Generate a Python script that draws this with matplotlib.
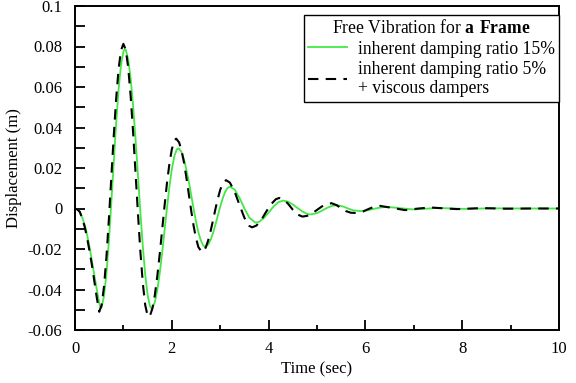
import matplotlib
matplotlib.use('Agg')
import matplotlib.pyplot as plt
from matplotlib.ticker import MultipleLocator, FuncFormatter

plt.rcParams['font.family'] = ['Liberation Serif', 'DejaVu Serif']
plt.rcParams['mathtext.fontset'] = 'custom'
plt.rcParams['mathtext.rm'] = 'Liberation Serif'
plt.rcParams['mathtext.bf'] = 'Liberation Serif:bold'
plt.rcParams['axes.unicode_minus'] = False

# inherent damping ratio 15% (green, solid)
t_15 = [0, 0.05, 0.1, 0.15, 0.2, 0.25, 0.3, 0.35, 0.4, 0.45, 0.5, 0.53,
        0.55, 0.6, 0.65, 0.7, 0.75, 0.8, 0.85, 0.9, 0.95, 1.0, 1.03,
        1.05, 1.1, 1.15, 1.2, 1.25, 1.3, 1.35, 1.4, 1.45, 1.5, 1.55, 1.58,
        1.6, 1.65, 1.7, 1.75, 1.8, 1.85, 1.9, 1.95, 2.0, 2.05, 2.1, 2.13,
        2.15, 2.2, 2.25, 2.3, 2.35, 2.4, 2.45, 2.5, 2.55, 2.6, 2.65, 2.69,
        2.75, 2.8, 2.85, 2.9, 2.95, 3.0, 3.05, 3.1, 3.15, 3.2,
        3.3, 3.4, 3.5, 3.6, 3.73, 3.8, 3.9, 4.0, 4.1, 4.2, 4.3,
        4.4, 4.5, 4.6, 4.7, 4.8, 4.87, 5.0, 5.1, 5.2, 5.3, 5.41,
        5.55, 5.65, 5.75, 5.9, 6.05, 6.15, 6.25, 6.35, 6.45,
        6.7, 7.0, 7.25, 7.5, 7.8, 8.05, 8.6, 9.2, 10.0]
d_15 = [0, -0.0005, -0.0015, -0.0045, -0.008, -0.013, -0.019, -0.026, -0.033, -0.040, -0.0465, -0.0493,
        -0.0488, -0.0432, -0.032, -0.0161, 0.0027, 0.0227, 0.042, 0.0585, 0.0708, 0.0775, 0.0787,
        0.0783, 0.0736, 0.0642, 0.0509, 0.0345, 0.0166, -0.0016, -0.0183, -0.0325, -0.0427, -0.0483, -0.0493,
        -0.0490, -0.0462, -0.0404, -0.0321, -0.0220, -0.0109, 0.0002, 0.0106, 0.0193, 0.0256, 0.0291, 0.0297,
        0.0295, 0.0279, 0.0244, 0.0194, 0.0134, 0.0068, 0.0, -0.0064, -0.0118, -0.0158, -0.0183, -0.0189,
        -0.0179, -0.0156, -0.0123, -0.0081, -0.0036, 0.0009, 0.0049, 0.0081, 0.0101, 0.0108,
        0.0093, 0.0052, 0.0001, -0.0045, -0.0070, -0.0066, -0.0048, -0.0020, 0.0009, 0.0031, 0.0039,
        0.0034, 0.0020, 0.0002, -0.0015, -0.0027, -0.0029, -0.0023, -0.0011, 0.0002, 0.0012, 0.0017,
        0.0009, -0.0001, -0.0009, -0.0013, -0.0009, -0.0003, 0.0002, 0.0006, 0.0008,
        0.0002, -0.0005, -0.0001, 0.0003, 0.0, -0.0002, 0.0001, 0.0, 0.0]

# inherent damping ratio 5% + viscous dampers (black, dashed)
t_5v = [0, 0.05, 0.1, 0.15, 0.2, 0.25, 0.3, 0.35, 0.4, 0.45, 0.5,
        0.55, 0.6, 0.65, 0.7, 0.75, 0.8, 0.85, 0.9, 0.95, 1.0,
        1.05, 1.1, 1.15, 1.2, 1.25, 1.3, 1.35, 1.4, 1.45, 1.5, 1.52,
        1.55, 1.6, 1.65, 1.7, 1.75, 1.8, 1.85, 1.9, 1.95, 2.0, 2.05, 2.09,
        2.15, 2.2, 2.25, 2.3, 2.35, 2.4, 2.45, 2.5, 2.55, 2.62,
        2.65, 2.7, 2.75, 2.8, 2.85, 2.9, 2.95, 3.0, 3.05, 3.12,
        3.2, 3.3, 3.4, 3.5, 3.6, 3.66, 3.75, 3.85, 3.95, 4.05, 4.15, 4.22,
        4.3, 4.4, 4.5, 4.6, 4.7, 4.8, 4.9, 5.0, 5.1, 5.2, 5.3,
        5.4, 5.5, 5.6, 5.7, 5.8, 5.95, 6.05, 6.15, 6.3,
        6.55, 6.82, 7.1, 7.35, 7.6, 7.9, 8.4, 8.9, 9.4, 10.0]
d_5v = [0, -0.0005, -0.0017, -0.005, -0.009, -0.0145, -0.021, -0.028, -0.036, -0.044, -0.051,
        -0.0478, -0.0384, -0.0237, -0.0053, 0.0152, 0.0356, 0.0541, 0.0687, 0.0781, 0.0813,
        0.0783, 0.0694, 0.0555, 0.0378, 0.0179, -0.0022, -0.0210, -0.0366, -0.0476, -0.0530, -0.0535,
        -0.0529, -0.0493, -0.0427, -0.0335, -0.0226, -0.0107, 0.0013, 0.0125, 0.0220, 0.0292, 0.0334, 0.0345,
        0.0327, 0.0288, 0.0229, 0.0155, 0.0073, -0.0009, -0.0085, -0.0147, -0.0191, -0.0215,
        -0.0212, -0.0193, -0.0159, -0.0113, -0.0060, -0.0004, 0.0048, 0.0092, 0.0123, 0.0140,
        0.0128, 0.0082, 0.0017, -0.0046, -0.0086, -0.0093, -0.0084, -0.0056, -0.0016, 0.0021, 0.0046, 0.0052,
        0.0046, 0.0024, -0.0006, -0.0030, -0.0040, -0.0036, -0.0024, -0.0007, 0.0010, 0.0022, 0.0026,
        0.0017, 0.0002, -0.0013, -0.0021, -0.0022, -0.0015, -0.0004, 0.0006, 0.0013,
        0.0003, -0.0008, 0.0, 0.0005, 0.0001, -0.0003, 0.0002, -0.0001, 0.0, 0.0]

fig = plt.figure(figsize=(5.76, 3.83), dpi=100)
ax = fig.add_axes([75/576, 53/383, 484/576, 324/383])

ax.plot(t_15, d_15, color='#44e844', lw=1.3, label='inherent damping ratio 15%')
ax.plot(t_5v, d_5v, color='black', lw=1.5, linestyle=(0, (5, 3.5)),
        label='inherent damping ratio 5%\n+ viscous dampers')

ax.set_xlim(0, 10)
ax.set_ylim(-0.06, 0.1)
ax.xaxis.set_major_locator(MultipleLocator(2))
ax.xaxis.set_minor_locator(MultipleLocator(1))
ax.yaxis.set_major_locator(MultipleLocator(0.02))
ax.yaxis.set_minor_locator(MultipleLocator(0.01))
ax.yaxis.set_major_formatter(FuncFormatter(lambda v, p: '%g' % round(v, 4)))
ax.tick_params(which='both', direction='in', top=False, right=False,
               labelsize=12, width=1.3)
ax.tick_params(axis='x', which='both', pad=8)
ax.tick_params(axis='y', which='both', pad=9)
ax.tick_params(axis='x', which='major', length=7)
ax.tick_params(axis='x', which='minor', length=3.5)
ax.tick_params(axis='y', which='both', length=7)
for s in ax.spines.values():
    s.set_linewidth(1.4)

ax.set_xlabel('Time (sec)', fontsize=12, labelpad=3)
ax.set_ylabel('Displacement (m)', fontsize=12, labelpad=4)

leg = ax.legend(loc='upper right', bbox_to_anchor=(1.0, 0.972), borderaxespad=0,
                title='Free Vibration for $\\mathbf{a\\ Frame}$',
                fontsize=12.7, title_fontsize=12.7, handlelength=2.2,
                handletextpad=0.6, fancybox=False, framealpha=1,
                edgecolor='black', labelspacing=0.18, borderpad=0.25)
leg.get_frame().set_linewidth(1.0)

fig.savefig('out.png', dpi=100)
